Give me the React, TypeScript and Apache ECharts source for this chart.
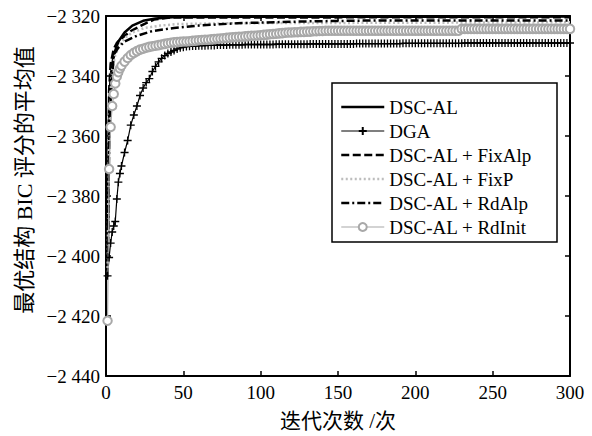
import React, { useEffect, useRef } from "react";
import * as echarts from "echarts";

// Iterations at which the marker series (DGA, DSC-AL + RdInit) are sampled
const SAMPLE_ITER: number[] = [
  1, 2, 3, 4, 5, 6, 7, 8, 9, 10,
  ...Array.from({ length: 145 }, (_, i) => 12 + i * 2),
];

// DGA: mean BIC score of the best structure, per sampled iteration
const DGA_SCORE: number[] = [
  -2406.6, -2400.5, -2395.7, -2392.0, -2390.0, -2388.5, -2381.0, -2375.4, -2372.5, -2370.0,
  -2365.5, -2361.5, -2356.4, -2353.0, -2350.0, -2346.5, -2344.0, -2342.2, -2340.9, -2338.5,
  -2336.8, -2335.3, -2334.1, -2333.2, -2332.5, -2332.0, -2331.5, -2331.0, -2330.6, -2330.4,
  -2330.2, -2330.1, -2330.0, -2330.0, -2329.9, -2329.9, -2329.9, -2329.8, -2329.8, -2329.8,
  -2329.7, -2329.7, -2329.7, -2329.7, -2329.6, -2329.6, -2329.6, -2329.6, -2329.6, -2329.5,
  -2329.5, -2329.5, -2329.5, -2329.5, -2329.5, -2329.5, -2329.5, -2329.5, -2329.5, -2329.4,
  -2329.4, -2329.4, -2329.4, -2329.4, -2329.4, -2329.4, -2329.4, -2329.4, -2329.4, -2329.4,
  -2329.3, -2329.3, -2329.3, -2329.3, -2329.3, -2329.3, -2329.3, -2329.3, -2329.3, -2329.3,
  -2329.3, -2329.3, -2329.3, -2329.3, -2329.3, -2329.2, -2329.2, -2329.2, -2329.2, -2329.2,
  -2329.2, -2329.2, -2329.2, -2329.2, -2329.2, -2329.2, -2329.2, -2329.2, -2329.2, -2329.2,
  -2329.1, -2329.1, -2329.1, -2329.1, -2329.1, -2329.1, -2329.1, -2329.1, -2329.1, -2329.1,
  -2329.1, -2329.1, -2329.1, -2329.1, -2329.1, -2329.1, -2329.1, -2329.1, -2329.1, -2329.1,
  -2329.0, -2329.0, -2329.0, -2329.0, -2329.0, -2329.0, -2329.0, -2329.0, -2329.0, -2329.0,
  -2329.0, -2329.0, -2329.0, -2329.0, -2329.0, -2329.0, -2329.0, -2329.0, -2329.0, -2329.0,
  -2329.0, -2329.0, -2329.0, -2329.0, -2329.0, -2329.0, -2329.0, -2329.0, -2329.0, -2329.0,
  -2329.0, -2329.0, -2329.0, -2329.0, -2329.0,
];

// DSC-AL + RdInit, per sampled iteration
const RDINIT_SCORE: number[] = [
  -2421.6, -2371.0, -2357.0, -2350.0, -2346.0, -2342.5, -2340.2, -2338.7, -2337.5, -2336.6,
  -2335.2, -2334.0, -2333.0, -2332.3, -2331.7, -2331.2, -2330.9, -2330.6, -2330.3, -2330.1,
  -2329.9, -2329.7, -2329.5, -2329.3, -2329.1, -2328.9, -2328.8, -2328.7, -2328.6, -2328.5,
  -2328.5, -2328.4, -2328.3, -2328.2, -2328.1, -2328.0, -2327.9, -2327.9, -2327.8, -2327.7,
  -2327.6, -2327.5, -2327.4, -2327.3, -2327.2, -2327.1, -2327.0, -2326.9, -2326.9, -2326.8,
  -2326.7, -2326.6, -2326.6, -2326.5, -2326.4,
  -2326.3, -2326.2, -2326.1, -2326.0, -2325.9, -2325.8, -2325.7, -2325.6, -2325.5, -2325.5,
  -2325.4, -2325.4, -2325.3, -2325.3, -2325.2, -2325.2, -2325.1, -2325.1, -2325.0, -2325.0,
  -2324.9, -2324.9, -2324.9, -2324.9, -2324.9, -2324.9, -2324.9, -2324.9, -2324.9, -2324.9,
  -2324.9, -2324.9, -2324.9, -2324.9, -2324.9, -2324.9, -2324.9, -2324.9, -2324.9, -2324.9,
  -2324.9, -2324.9, -2324.9, -2324.9, -2324.9, -2324.9, -2324.9, -2324.9, -2324.9, -2324.9,
  -2324.9, -2324.9, -2324.9, -2324.9, -2324.9, -2324.9, -2324.9, -2324.9, -2324.9, -2324.9,
  -2324.9, -2324.9, -2324.9, -2324.9,
  -2324.3, -2324.3, -2324.3, -2324.3, -2324.3, -2324.3, -2324.3, -2324.3, -2324.3, -2324.3,
  -2324.3, -2324.3, -2324.3, -2324.3, -2324.3, -2324.3, -2324.3, -2324.3, -2324.3, -2324.3,
  -2324.3, -2324.3, -2324.3, -2324.3, -2324.3, -2324.3, -2324.3, -2324.3, -2324.3, -2324.3,
  -2324.3, -2324.3, -2324.3, -2324.3, -2324.3, -2324.3,
];

// Smooth curves without markers: [iteration, score]
const DSCAL_CURVE: [number, number][] = [
  [1, -2407], [2, -2352], [3, -2340], [5, -2333], [8, -2328.5], [12, -2325.5],
  [17, -2323.2], [24, -2321.6], [32, -2320.8], [45, -2320.3], [300, -2320.2],
];
const FIXALP_CURVE: [number, number][] = [
  [1, -2407], [2, -2345], [3, -2336], [5, -2331], [7, -2329], [10, -2327.5],
  [16, -2325], [25, -2322.6], [31, -2321.2], [42, -2320.5], [300, -2320.4],
];
const FIXP_CURVE: [number, number][] = [
  [1, -2407], [2, -2360], [3, -2345], [4, -2338], [6, -2333], [9, -2329.5],
  [13, -2327], [17, -2325.5], [25, -2324], [35, -2323.2], [46, -2322.7],
  [80, -2322.4], [300, -2322.1],
];
const RDALP_CURVE: [number, number][] = [
  [1, -2407], [2, -2365], [3, -2348], [5, -2333], [8, -2330.5], [12, -2328.5],
  [20, -2326.6], [30, -2325], [44, -2324], [60, -2323.2], [85, -2322.4],
  [130, -2321.8], [171, -2321.5], [300, -2321.5],
];

const SERIES_NAMES = [
  "DSC-AL",
  "DGA",
  "DSC-AL + FixAlp",
  "DSC-AL + FixP",
  "DSC-AL + RdAlp",
  "DSC-AL + RdInit",
];

const X_TICKS = { min: 0, max: 300, interval: 50 };
const Y_TICKS = { min: -2440, max: -2320, interval: 20 };

const SERIF = "'Liberation Serif', 'Times New Roman', serif";
const MIXED = "'Liberation Serif', 'Noto Sans CJK SC', serif";

function formatScore(v: number): string {
  const s = String(Math.abs(v));
  const body = s.length > 3 ? s.slice(0, -3) + " " + s.slice(-3) : s;
  return (v < 0 ? "\u2212" : "") + body;
}

export default function App() {
  const ref = useRef<HTMLDivElement>(null);

  useEffect(() => {
    if (!ref.current) return;
    const chart = echarts.init(ref.current, undefined, { renderer: "svg" });

    const pair = (vals: number[]) => SAMPLE_ITER.map((it, i) => [it, vals[i]]);

    const frameLine = { lineStyle: { color: "#000", width: 2 } };
    const tickIn = { show: true, inside: true, length: 5, lineStyle: { color: "#000", width: 1.5 } };

    const lineStyles = [
      { color: "#000", width: 2.5 },
      { color: "#000", width: 1.2 },
      { color: "#000", width: 2.5, type: [8, 3.5] },
      { color: "#bdbdbd", width: 2.5, type: [2, 2.5] },
      { color: "#000", width: 2.5, type: [8, 3, 2, 3] },
      { color: "#a8a8a8", width: 1.2 },
    ];
    const hasMarker = [false, true, false, false, false, true];

    chart.setOption({
      animation: false,
      backgroundColor: "#fff",
      grid: { left: 106, top: 16, right: 22, bottom: 53, containLabel: false },
      xAxis: [
        {
          type: "value",
          ...X_TICKS,
          position: "bottom",
          axisLine: { show: true, onZero: false, ...frameLine },
          axisTick: tickIn,
          splitLine: { show: false },
          axisLabel: { color: "#000", fontFamily: SERIF, fontSize: 19, margin: 7 },
          name: "迭代次数 /次",
          nameLocation: "middle",
          nameGap: 34,
          nameTextStyle: { color: "#000", fontFamily: MIXED, fontSize: 21 },
        },
        {
          type: "value",
          ...X_TICKS,
          position: "top",
          axisLine: { show: true, onZero: false, ...frameLine },
          axisTick: tickIn,
          axisLabel: { show: false },
          splitLine: { show: false },
        },
      ],
      yAxis: [
        {
          type: "value",
          ...Y_TICKS,
          position: "left",
          axisLine: { show: true, onZero: false, ...frameLine },
          axisTick: tickIn,
          splitLine: { show: false },
          axisLabel: {
            color: "#000",
            fontFamily: SERIF,
            fontSize: 19,
            margin: 6,
            formatter: formatScore,
          },
        },
        {
          type: "value",
          ...Y_TICKS,
          position: "right",
          axisLine: { show: true, onZero: false, ...frameLine },
          axisTick: tickIn,
          axisLabel: { show: false },
          splitLine: { show: false },
        },
      ],
      legend: {
        orient: "vertical",
        left: 340,
        top: 97,
        padding: 0,
        itemWidth: 43,
        itemHeight: 10,
        itemGap: 4,
        itemTextGap: 7,
        data: SERIES_NAMES.map((name, i) => ({
          name,
          lineStyle: { ...lineStyles[i] },
          itemStyle: hasMarker[i] ? undefined : { opacity: 0 },
        })),
        textStyle: { color: "#000", fontFamily: SERIF, fontSize: 19, lineHeight: 20 },
        z: 5,
      },
      graphic: [
        {
          type: "rect",
          z: 4,
          shape: { x: 332, y: 83, width: 225, height: 159 },
          style: { fill: "#fff", stroke: "#000", lineWidth: 1.5 },
        },
        {
          type: "text",
          x: 24,
          y: 180,
          rotation: Math.PI / 2,
          style: {
            text: "最优结构 BIC 评分的平均值",
            fontFamily: MIXED,
            fontSize: 22,
            fill: "#000",
            align: "center",
            verticalAlign: "middle",
          },
        },
      ],
      series: [
        {
          name: SERIES_NAMES[0],
          type: "line",
          data: DSCAL_CURVE,
          symbol: "none",
          lineStyle: lineStyles[0],
          itemStyle: { color: "#000" },
          z: 2,
        },
        {
          name: SERIES_NAMES[1],
          type: "line",
          data: pair(DGA_SCORE),
          symbol: "path://M0,5L10,5M5,0L5,10",
          symbolSize: 8,
          showAllSymbol: true,
          lineStyle: lineStyles[1],
          itemStyle: { color: "#000", borderColor: "#000", borderWidth: 1.3 },
          z: 2,
        },
        {
          name: SERIES_NAMES[2],
          type: "line",
          data: FIXALP_CURVE,
          symbol: "none",
          lineStyle: lineStyles[2],
          itemStyle: { color: "#000" },
          z: 2,
        },
        {
          name: SERIES_NAMES[3],
          type: "line",
          data: FIXP_CURVE,
          symbol: "none",
          lineStyle: lineStyles[3],
          itemStyle: { color: "#bdbdbd" },
          z: 2,
        },
        {
          name: SERIES_NAMES[4],
          type: "line",
          data: RDALP_CURVE,
          symbol: "none",
          lineStyle: lineStyles[4],
          itemStyle: { color: "#000" },
          z: 2,
        },
        {
          name: SERIES_NAMES[5],
          type: "line",
          data: pair(RDINIT_SCORE),
          symbol: "emptyCircle",
          symbolSize: 8.5,
          showAllSymbol: true,
          lineStyle: lineStyles[5],
          itemStyle: { color: "#a8a8a8", borderColor: "#a8a8a8", borderWidth: 1.2 },
          z: 2,
        },
      ],
    });

    return () => chart.dispose();
  }, []);

  return (
    <div
      ref={ref}
      style={{ position: "absolute", left: 0, top: 0, width: 592, height: 436 }}
    />
  );
}
